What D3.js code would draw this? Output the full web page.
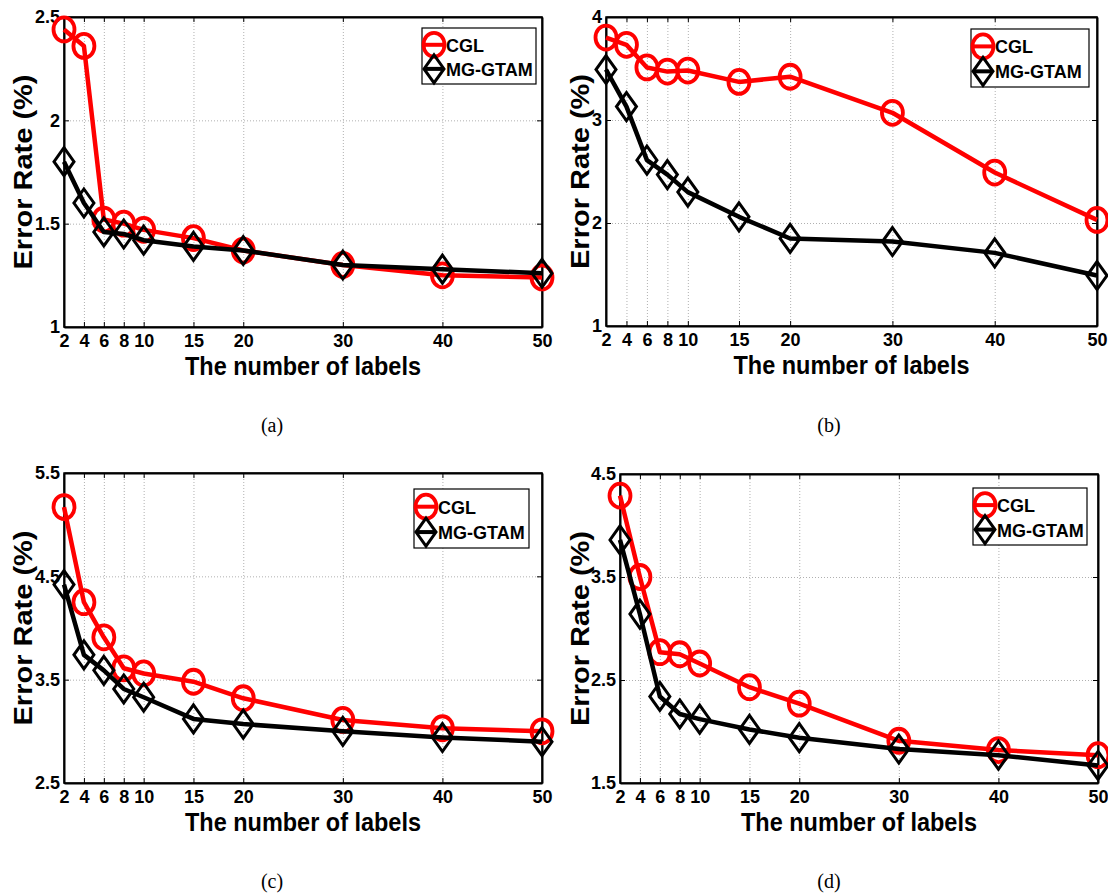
<!DOCTYPE html>
<html>
<head>
<meta charset="utf-8">
<script src="https://cdn.jsdelivr.net/npm/d3@7"></script>
<style>
  body { margin: 0; background: #fff; }
  text { font-family: "Liberation Sans", Arial, sans-serif; font-weight: bold; }
  .caption { font-family: "Liberation Serif", "Times New Roman", serif; font-weight: normal; }
</style>
</head>
<body>
<div id="chart"></div>
<script>
// x values shared by every panel
const labelCounts = [2, 4, 6, 8, 10, 15, 20, 30, 40, 50]
const xTicks = [2, 4, 6, 8, 10, 15, 20, 30, 40, 50]

// error rates (%)
const cglA = [2.44, 2.36, 1.52, 1.50, 1.47, 1.43, 1.37, 1.30, 1.25, 1.24]
const mgA  = [1.80, 1.60, 1.46, 1.45, 1.42, 1.39, 1.37, 1.30, 1.28, 1.26]
const cglB = [3.80, 3.73, 3.51, 3.47, 3.48, 3.37, 3.42, 3.07, 2.49, 2.03]
const mgB  = [3.49, 3.13, 2.61, 2.47, 2.30, 2.06, 1.85, 1.82, 1.71, 1.49]
const cglC = [5.17, 4.25, 3.91, 3.61, 3.56, 3.48, 3.32, 3.11, 3.03, 3.00]
const mgC  = [4.42, 3.74, 3.59, 3.41, 3.33, 3.12, 3.07, 3.00, 2.94, 2.90]
const cglD = [4.29, 3.50, 2.77, 2.75, 2.66, 2.43, 2.27, 1.91, 1.82, 1.77]
const mgD  = [3.86, 3.14, 2.34, 2.17, 2.12, 2.02, 1.94, 1.83, 1.77, 1.67]

const yTicksA = [1, 1.5, 2, 2.5]
const yTicksB = [1, 2, 3, 4]
const yTicksC = [2.5, 3.5, 4.5, 5.5]
const yTicksD = [1.5, 2.5, 3.5, 4.5]

const seriesNames = ["CGL", "MG-GTAM"]
const captions = ["(a)", "(b)", "(c)", "(d)"]

const svg = d3.select("#chart").append("svg")
    .attr("width", 1108)
    .attr("height", 893)

const panels = [
    {cgl: cglA, mg: mgA, yTicks: yTicksA, box: {left: 64, right: 542, top: 17, bottom: 327},
     yLabelX: 32, legend: {x: 422, y: 28, w: 114, h: 56}, caption: {x: 272, y: 432}},
    {cgl: cglB, mg: mgB, yTicks: yTicksB, box: {left: 606, right: 1097, top: 17, bottom: 326},
     yLabelX: 589, legend: {x: 971, y: 29, w: 118, h: 58}, caption: {x: 829, y: 432}},
    {cgl: cglC, mg: mgC, yTicks: yTicksC, box: {left: 64, right: 542, top: 473, bottom: 783},
     yLabelX: 32, legend: {x: 414, y: 489, w: 115, h: 59}, caption: {x: 272, y: 888}},
    {cgl: cglD, mg: mgD, yTicks: yTicksD, box: {left: 620, right: 1098, top: 474, bottom: 783},
     yLabelX: 589, legend: {x: 973, y: 488, w: 114, h: 57}, caption: {x: 829, y: 888}}
]

function diamond(g, cx, cy) {
    g.append("path")
        .attr("d", `M${cx},${cy - 14}L${cx + 10},${cy}L${cx},${cy + 14}L${cx - 10},${cy}Z`)
        .attr("fill", "none")
        .attr("stroke", "#000")
        .attr("stroke-width", 3)
}

function circle(g, cx, cy) {
    g.append("ellipse")
        .attr("cx", cx).attr("cy", cy)
        .attr("rx", 10.5).attr("ry", 12)
        .attr("fill", "none")
        .attr("stroke", "#ff0000")
        .attr("stroke-width", 3.8)
}

panels.forEach((p, i) => {
    const b = p.box
    const w = b.right - b.left
    const h = b.bottom - b.top

    const x = d3.scaleLinear().domain([2, 50]).range([b.left, b.right])
    const y = d3.scaleLinear().domain(d3.extent(p.yTicks)).range([b.bottom, b.top])

    const g = svg.append("g")

    // grid
    g.append("g")
        .attr("transform", `translate(0,${b.bottom})`)
        .call(d3.axisBottom(x).tickValues(xTicks).tickSize(-h).tickFormat(""))
        .call(s => s.select(".domain").remove())
        .selectAll("line")
        .attr("stroke", "#b0b0b0").attr("stroke-dasharray", "1,2")
    g.append("g")
        .attr("transform", `translate(${b.left},0)`)
        .call(d3.axisLeft(y).tickValues(p.yTicks).tickSize(-w).tickFormat(""))
        .call(s => s.select(".domain").remove())
        .selectAll("line")
        .attr("stroke", "#b0b0b0").attr("stroke-dasharray", "1,2")

    // frame
    g.append("rect")
        .attr("x", b.left).attr("y", b.top)
        .attr("width", w).attr("height", h)
        .attr("fill", "none").attr("stroke", "#000").attr("stroke-width", 1.5)

    // axes with inward ticks
    const xAxis = g.append("g")
        .attr("transform", `translate(0,${b.bottom})`)
        .call(d3.axisBottom(x).tickValues(xTicks).tickSizeInner(-5).tickSizeOuter(0).tickPadding(7))
    const yAxis = g.append("g")
        .attr("transform", `translate(${b.left},0)`)
        .call(d3.axisLeft(y).tickValues(p.yTicks).tickSizeInner(-5).tickSizeOuter(0).tickPadding(4)
            .tickFormat(d3.format("")))
    g.append("g")
        .attr("transform", `translate(0,${b.top})`)
        .call(d3.axisTop(x).tickValues(xTicks).tickSizeInner(-5).tickSizeOuter(0).tickFormat(""))
    g.append("g")
        .attr("transform", `translate(${b.right},0)`)
        .call(d3.axisRight(y).tickValues(p.yTicks).tickSizeInner(-5).tickSizeOuter(0).tickFormat(""))

    g.selectAll(".domain").attr("stroke", "#000").attr("stroke-width", 2)
    g.selectAll(".tick line").filter(function () { return this.getAttribute("stroke-dasharray") == null })
        .attr("stroke", "#000")
    xAxis.selectAll("text").attr("font-size", 18).attr("font-family", null).attr("fill", "#000")
    yAxis.selectAll("text").attr("font-size", 18).attr("font-family", null).attr("fill", "#000")

    // axis titles
    g.append("text")
        .attr("x", (b.left + b.right) / 2).attr("y", b.bottom + 48)
        .attr("text-anchor", "middle")
        .attr("font-size", 26)
        .attr("textLength", 236).attr("lengthAdjust", "spacingAndGlyphs")
        .text("The number of labels")
    g.append("text")
        .attr("transform", `translate(${p.yLabelX},${(b.top + b.bottom) / 2}) rotate(-90)`)
        .attr("text-anchor", "middle")
        .attr("font-size", 25)
        .attr("textLength", 195).attr("lengthAdjust", "spacingAndGlyphs")
        .text("Error Rate (%)")

    // lines
    const line = d3.line().x((d, j) => x(labelCounts[j])).y(d => y(d))
    g.append("path").datum(p.cgl)
        .attr("d", line).attr("fill", "none")
        .attr("stroke", "#ff0000").attr("stroke-width", 4.5).attr("stroke-linejoin", "round")
    p.cgl.forEach((v, j) => circle(g, x(labelCounts[j]), y(v)))

    g.append("path").datum(p.mg)
        .attr("d", line).attr("fill", "none")
        .attr("stroke", "#000").attr("stroke-width", 4.5).attr("stroke-linejoin", "round")
    p.mg.forEach((v, j) => diamond(g, x(labelCounts[j]), y(v)))

    // legend
    const L = p.legend
    g.append("rect")
        .attr("x", L.x).attr("y", L.y).attr("width", L.w).attr("height", L.h)
        .attr("fill", "#fff").attr("stroke", "#000").attr("stroke-width", 1.2)
    const r1 = L.y + L.h * 0.3
    const r2 = L.y + L.h * 0.73
    const mx = L.x + 12
    g.append("line").attr("x1", mx - 9).attr("x2", mx + 9).attr("y1", r1).attr("y2", r1)
        .attr("stroke", "#ff0000").attr("stroke-width", 4)
    circle(g, mx, r1)
    g.append("line").attr("x1", mx - 9).attr("x2", mx + 9).attr("y1", r2).attr("y2", r2)
        .attr("stroke", "#000").attr("stroke-width", 4)
    diamond(g, mx, r2)
    seriesNames.forEach((name, k) => {
        g.append("text")
            .attr("x", L.x + 24).attr("y", (k === 0 ? r1 : r2) + 7)
            .attr("font-size", 18)
            .text(name)
    })

    // caption
    svg.append("text")
        .attr("class", "caption")
        .attr("x", p.caption.x).attr("y", p.caption.y)
        .attr("text-anchor", "middle")
        .attr("font-size", 20)
        .text(captions[i])
})
</script>
</body>
</html>
